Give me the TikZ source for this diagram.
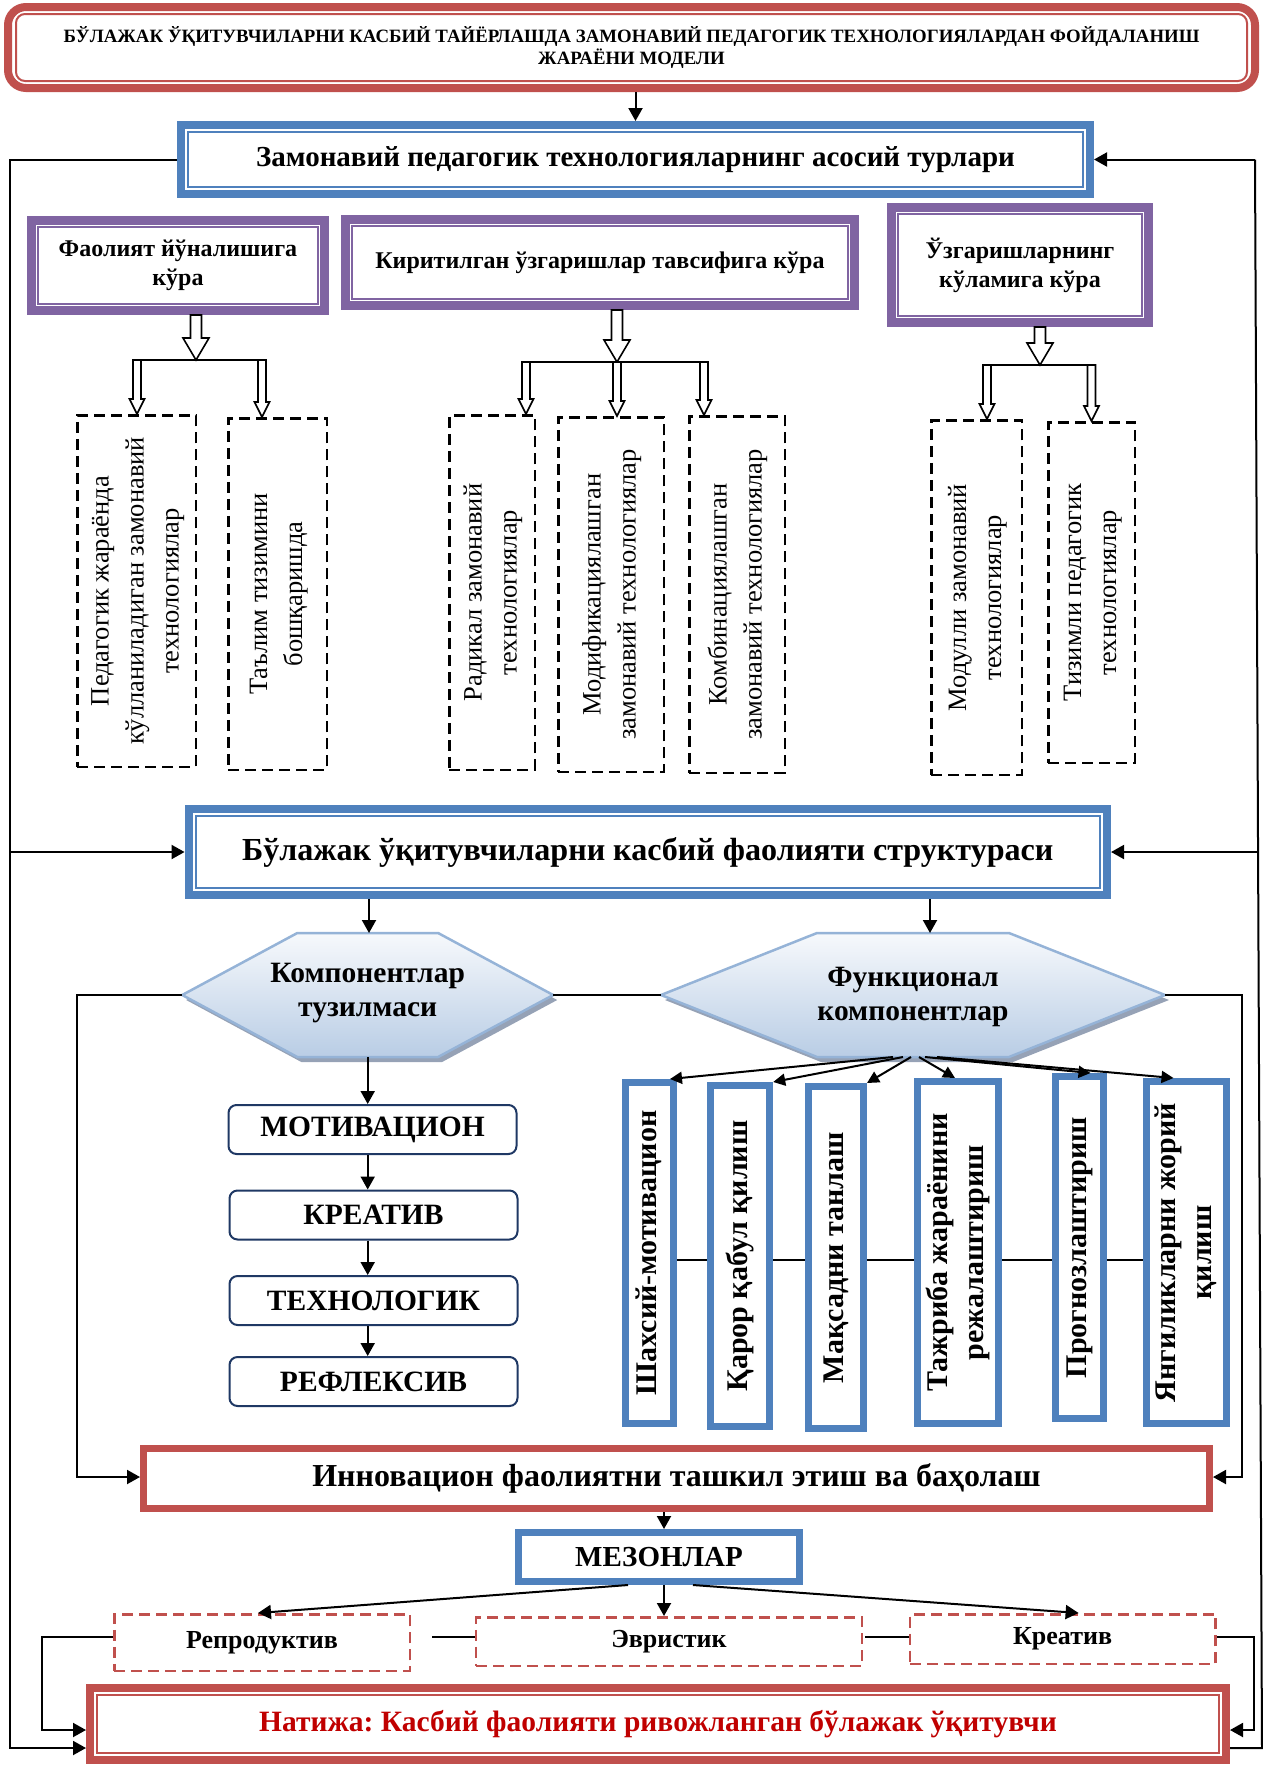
\documentclass[tikz,border=0pt]{standalone}
\usepackage{fontspec}
\setmainfont{Liberation Serif}
\usepackage{graphicx}
\usetikzlibrary{arrows.meta, calc}

\definecolor{boxred}{RGB}{192,80,77}
\definecolor{boxblue}{RGB}{79,129,189}
\definecolor{boxpurple}{RGB}{128,100,162}
\definecolor{boxnavy}{RGB}{31,56,100}
\definecolor{hexline}{RGB}{149,179,215}
\definecolor{hexfill}{RGB}{185,205,229}
\definecolor{hexshadow}{RGB}{150,162,182}
\definecolor{textred}{RGB}{192,0,0}

\newcommand{\vlines}[1]{\rotatebox{90}{\begin{tabular}{@{}c@{}}#1\end{tabular}}}
\frenchspacing

\begin{document}
\begin{tikzpicture}[x=1pt, y=-1pt,
    wire/.style={line width=2pt},
    arr/.style={wire, -{Triangle[length=13pt,width=14pt]}},
    fan/.style={wire, -{Triangle[length=12pt,width=12pt]}},
    link/.style={line width=1.6pt},
    dframe/.style={draw=#1, line width=8pt, fill=white, inner sep=0pt, align=center},
    sframe/.style={draw=#1, line width=7pt, fill=white, inner sep=0pt, align=center},
    ptype/.style={dframe=boxpurple, line width=9pt, font=\bfseries\fontsize{24}{29}\selectfont},
    dashbox/.style={draw, line width=2.5pt, dash pattern=on 11pt off 6pt, inner sep=0pt, font=\fontsize{26.5}{35}\selectfont},
    funcbox/.style={sframe=boxblue, font=\bfseries\fontsize{30}{36}\selectfont},
    reddash/.style={draw=boxred, line width=2.5pt, dash pattern=on 11pt off 6pt, inner sep=0pt, font=\bfseries\fontsize{26}{29}\selectfont},
    capsbox/.style={draw=boxnavy, line width=2pt, rounded corners=8pt, fill=white, inner sep=0pt, minimum width=288pt, minimum height=49pt, font=\bfseries\fontsize{29.5}{33}\selectfont},
    hollow/.style={draw, line width=1.6pt, fill=white},
    hexagon/.style={draw=hexline, line width=2.5pt, top color=hexfill!12, bottom color=hexfill},
    hexshade/.style={fill=hexshadow},
    hextext/.style={align=center, font=\bfseries\fontsize{29.5}{34}\selectfont},
]
    \useasboundingbox (0,0) rectangle (1263,1765);

    % heading boxes
    \node[dframe=boxred, rounded corners=18pt, minimum width=1247pt, minimum height=81pt, font=\bfseries\fontsize{18.8}{22}\selectfont] (title) at (631.5,47.5) {БЎЛАЖАК ЎҚИТУВЧИЛАРНИ КАСБИЙ ТАЙЁРЛАШДА ЗАМОНАВИЙ ПЕДАГОГИК ТЕХНОЛОГИЯЛАРДАН ФОЙДАЛАНИШ\\ЖАРАЁНИ МОДЕЛИ};
    \node[dframe=boxblue, minimum width=909pt, minimum height=69pt, font=\bfseries\fontsize{29}{34}\selectfont] (types) at (635.5,159.5) {Замонавий педагогик технологияларнинг асосий турлари};

    \node[ptype, minimum width=293pt, minimum height=90pt] (pa) at (178,265.5) {Фаолият йўналишига\\кўра};
    \node[ptype, minimum width=509pt, minimum height=86pt] (pb) at (600,262.5) {Киритилган ўзгаришлар тавсифига кўра};
    \node[ptype, minimum width=257pt, minimum height=115pt] (pc) at (1020,265) {Ўзгаришларнинг\\кўламига кўра};

    % kinds of technologies
    \node[dashbox, minimum width=118.5pt, minimum height=351.5pt] (a1) at (136.5,591) {\vlines{Педагогик жараёнда\\кўлланиладиган замонавий\\технологиялар}};
    \node[dashbox, minimum width=98.5pt, minimum height=351.5pt] (a2) at (277.5,594) {\vlines{Таълим тизимини\\бошқаришда}};
    \node[dashbox, minimum width=85.5pt, minimum height=354.5pt] (b1) at (492,592.5) {\vlines{Радикал замонавий\\технологиялар}};
    \node[dashbox, minimum width=105.5pt, minimum height=354.5pt] (b2) at (611,594.5) {\vlines{Модификациялашган\\замонавий технологиялар}};
    \node[dashbox, minimum width=95.5pt, minimum height=356.5pt] (b3) at (737,594.5) {\vlines{Комбинациялашган\\замонавий технологиялар}};
    \node[dashbox, minimum width=90.5pt, minimum height=354.5pt] (c1) at (976.5,597.5) {\vlines{Модулли замонавий\\технологиялар}};
    \node[dashbox, minimum width=86.5pt, minimum height=340.5pt] (c2) at (1091.5,592.5) {\vlines{Тизимли педагогик\\технологиялар}};

    \node[dframe=boxblue, minimum width=918.5pt, minimum height=86pt, font=\bfseries\fontsize{32.1}{36}\selectfont] (struct) at (647.8,852) {Бўлажак ўқитувчиларни касбий фаолияти структураси};

    % hexagons
    \foreach \hx/\cx/\hw/\tw/\nx in {hexL/367.7/185.5/70.4/369, hexR/913/252/96/930} {
        \fill[hexshade, xshift=4pt, yshift=-5pt] (\cx-\hw,995) -- (\cx-\tw,933) -- (\cx+\tw,933) -- (\cx+\hw,995) -- (\cx+\tw,1057) -- (\cx-\tw,1057) -- cycle;
        \draw[hexagon] (\cx-\hw,995) -- (\cx-\tw,933) -- (\cx+\tw,933) -- (\cx+\hw,995) -- (\cx+\tw,1057) -- (\cx-\tw,1057) -- cycle;
        \coordinate (\hx-w) at (\cx-\hw,995);
        \coordinate (\hx-e) at (\cx+\hw,995);
        \coordinate (\hx-n) at (\nx,933);
        \coordinate (\hx-s) at (\cx,1057);
    }
    \node[hextext] (hexL) at (367.7,993) {Компонентлар\\тузилмаси};
    \node[hextext] (hexR) at (913,997) {Функционал\\компонентлар};

    \node[capsbox] (cmot) at (372.5,1129.5) {МОТИВАЦИОН};
    \node[capsbox] (ckre) at (373.5,1215) {КРЕАТИВ};
    \node[capsbox] (ctex) at (373.5,1300.5) {ТЕХНОЛОГИК};
    \node[capsbox] (cref) at (373.5,1381.5) {РЕФЛЕКСИВ};

    \node[funcbox, minimum width=48pt, minimum height=341pt] (s1) at (649.5,1253) {\vlines{Шахсий-мотивацион}};
    \node[funcbox, minimum width=59.4pt, minimum height=341pt] (s2) at (740,1256) {\vlines{Қарор қабул қилиш}};
    \node[funcbox, minimum width=55pt, minimum height=342pt] (s3) at (836,1257.5) {\vlines{Мақсадни танлаш}};
    \node[funcbox, minimum width=81.5pt, minimum height=342pt] (s4) at (958,1252.5) {\vlines{Тажриба жараёнини\\режалаштириш}};
    \node[funcbox, minimum width=48pt, minimum height=342pt] (s5) at (1079.5,1247.5) {\vlines{Прогнозлаштириш}};
    \node[funcbox, minimum width=80pt, minimum height=342pt] (s6) at (1186.5,1252.5) {\vlines{Янгиликларни жорий\\қилиш}};

    % evaluation
    \node[sframe=boxred, minimum width=1066pt, minimum height=60pt, font=\bfseries\fontsize{32}{36}\selectfont] (inno) at (676.5,1478.5) {Инновацион фаолиятни ташкил этиш ва баҳолаш};
    \node[sframe=boxblue, minimum width=280.5pt, minimum height=49pt, font=\bfseries\fontsize{29}{34}\selectfont] (mezon) at (659,1557) {МЕЗОНЛАР};
    \node[reddash, minimum width=295.5pt, minimum height=56.5pt] (rep) at (262,1642.5) {Репродуктив};
    \node[reddash, minimum width=386pt, minimum height=48.5pt] (evr) at (669,1641.5) {Эвристик};
    \node[reddash, minimum width=305.6pt, minimum height=49.5pt] (krt) at (1062.6,1639) {Креатив};
    \node[dframe=boxred, minimum width=1136pt, minimum height=72pt, text=textred, font=\bfseries\fontsize{29.5}{34}\selectfont] (natija) at (658,1724) {Натижа: Касбий фаолияти ривожланган бўлажак ўқитувчи};

    % inner lines of the framed boxes
    \draw[boxred, line width=2pt, rounded corners=9pt] ([shift={(12pt,-11pt)}]title.north west) rectangle ([shift={(-12pt,11pt)}]title.south east);
    \foreach \bx/\bc in {types/boxblue, struct/boxblue, pa/boxpurple, pb/boxpurple, pc/boxpurple, natija/boxred}
        \draw[\bc, line width=2pt] ([shift={(11pt,-11pt)}]\bx.north west) rectangle ([shift={(-11pt,11pt)}]\bx.south east);

    % hollow arrows under the kinds
    \coordinate (pa-j) at (196,360);   \coordinate (pa-l) at (137,360);   \coordinate (pa-r) at (262,360);
    \coordinate (pb-j) at (617,362);   \coordinate (pb-l) at (526,362);   \coordinate (pb-r) at (704,362);
    \coordinate (pc-j) at (1040,365);  \coordinate (pc-l) at (987,365);   \coordinate (pc-r) at (1091.5,365);
    \foreach \pt in {pa,pb,pc}
        \draw[hollow] let \p1=(\pt.south), \p2=(\pt-j) in (\x2-5.5pt,\y1) -- (\x2-5.5pt,\y2+22pt) -- (\x2-13pt,\y2+22pt) -- (\x2,\y2) -- (\x2+13pt,\y2+22pt) -- (\x2+5.5pt,\y2+22pt) -- (\x2+5.5pt,\y1) -- cycle;
    \foreach \jn/\dn in {pa-l/a1, pa-r/a2, pb-l/b1, pb-j/b2, pb-r/b3, pc-l/c1, pc-r/c2}
        \draw[hollow] let \p1=(\jn), \p2=(\dn.north) in (\x1-4pt,\y1) -- (\x1-4pt,\y2+15pt) -- (\x1-7.5pt,\y2+15pt) -- (\x1,\y2) -- (\x1+7.5pt,\y2+15pt) -- (\x1+4pt,\y2+15pt) -- (\x1+4pt,\y1) -- cycle;
    \foreach \pt in {pa,pb,pc}
        \draw[wire] ([xshift=-4pt]\pt-l) -- ([xshift=4pt]\pt-r);

    % feedback lines
    \coordinate (fbl) at (10,1748);
    \draw[arr] (title.south -| types.north) -- (types.north);
    \draw[arr] (types.west) -| (fbl) -- (fbl -| natija.west);
    \draw[arr] (fbl |- struct.west) -- (struct.west);
    \coordinate (fbrt) at (1255,159.5);
    \coordinate (fbrm) at (1258,852);
    \coordinate (fbrb) at (1262,1748);
    \draw[arr] (fbrt) -- (types.east);
    \draw[wire] (fbrt) -- (fbrb) -- (fbrb -| natija.east);
    \draw[arr] (fbrm) -- (struct.east);

    % structure
    \draw[arr] (struct.south -| hexL-n) -- (hexL-n);
    \draw[arr] (struct.south -| hexR-n) -- (hexR-n);
    \coordinate (innL) at (77,1477);
    \coordinate (innR) at (1242,1477);
    \draw[arr] (hexL-w) -| (innL) -- (innL -| inno.west);
    \draw[wire] (hexL-e) -- (hexR-w);
    \draw[arr] (hexR-e) -| (innR) -- (innR -| inno.east);

    \draw[arr] (hexL-s) -- (hexL-s |- cmot.north);
    \foreach \a/\b in {cmot/ckre, ckre/ctex, ctex/cref}
        \draw[arr] (\a.south -| hexL-s) -- (\b.north -| hexL-s);

    \draw[fan] ([xshift=-20pt]hexR-s) -- ([xshift=-7pt]s1.north east);
    \draw[fan] ([xshift=-10pt]hexR-s) -- (s2.north east);
    \draw[fan] ([xshift=-2pt]hexR-s) -- (s3.north east);
    \draw[fan] ([xshift=6pt]hexR-s) -- ([xshift=-3pt]s4.north);
    \draw[fan] ([xshift=12pt]hexR-s) -- ([xshift=11pt]s5.north);
    \draw[fan] ([xshift=24pt]hexR-s) -- ([xshift=-13pt]s6.north);
    \coordinate (srow) at (0,1260);
    \foreach \a/\b in {s1/s2, s2/s3, s3/s4, s4/s5, s5/s6}
        \draw[link] (\a.east |- srow) -- (\b.west |- srow);

    % criteria
    \coordinate (mz) at ([xshift=5pt]mezon.north);
    \draw[arr] (mz |- inno.south) -- (mz);
    \draw[arr] ([xshift=-31pt]mezon.south) -- ([xshift=-4pt]rep.north);
    \draw[arr] (mz |- mezon.south) -- (mz |- evr.north);
    \draw[arr] ([xshift=34pt]mezon.south) -- ([xshift=16pt]krt.north);
    \coordinate (mrow) at (0,1637);
    \draw[link] ($(rep.east |- mrow)+(21pt,0)$) -- (evr.west |- mrow);
    \draw[link] ($(evr.east |- mrow)+(2pt,0)$) -- (krt.west |- mrow);
    \coordinate (repL) at (42,1730);
    \coordinate (krtR) at (1254,1730);
    \draw[arr] (rep.west |- mrow) -| (repL) -- (repL -| natija.west);
    \draw[arr] (krt.east |- mrow) -| (krtR) -- (krtR -| natija.east);
\end{tikzpicture}
\end{document}
